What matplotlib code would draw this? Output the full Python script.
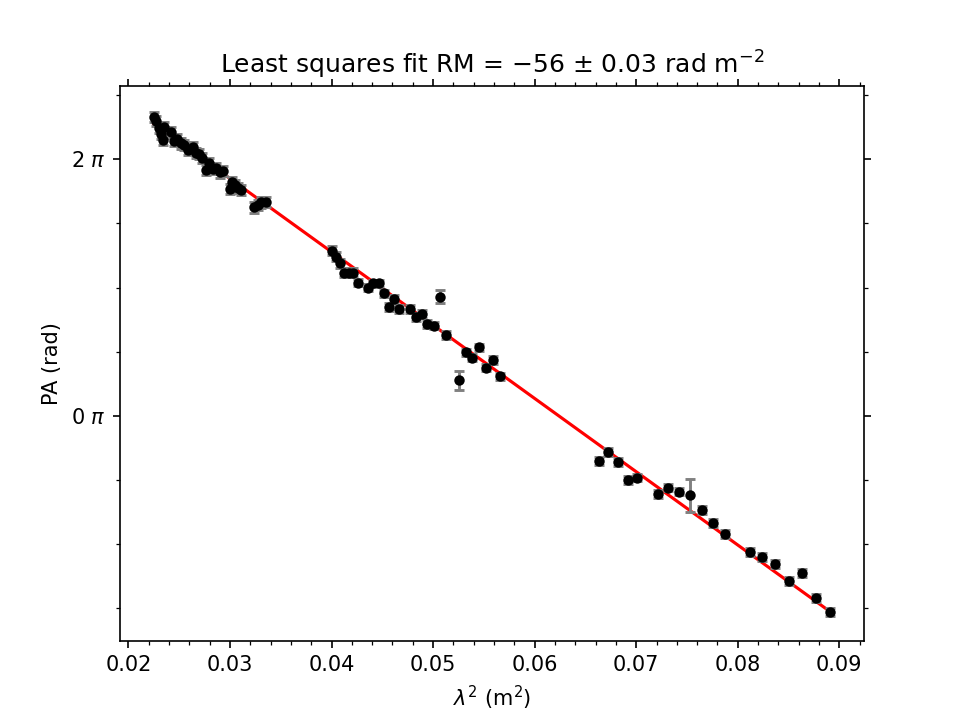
import numpy as np
import matplotlib
matplotlib.use('Agg')
from matplotlib import pyplot as plt
from matplotlib.ticker import MultipleLocator, FuncFormatter

#--------------------------------
# DATA
#--------------------------------
lam2 = [0.02256, 0.02272, 0.02305, 0.02322, 0.02338, 0.02354, 0.02419, 0.02452,
        0.02478, 0.02517, 0.02547, 0.02584, 0.02634, 0.02666, 0.02699, 0.02725,
        0.02766, 0.02789, 0.02832, 0.02865, 0.02898, 0.02935, 0.02999, 0.03016,
        0.03045, 0.03082, 0.03109, 0.03239, 0.03276, 0.03305, 0.03354,
        0.04000, 0.04042, 0.04085, 0.04124, 0.04173, 0.04216, 0.04264, 0.04357,
        0.04413, 0.04468, 0.04514, 0.04566, 0.04616, 0.04665, 0.04773, 0.04829,
        0.04895, 0.04940, 0.05006, 0.05068, 0.05129, 0.05255, 0.05321, 0.05386,
        0.05451, 0.05524, 0.05593, 0.05658,
        0.06631, 0.06724, 0.06822, 0.06916, 0.07009, 0.07211, 0.07314, 0.07418,
        0.07533, 0.07648, 0.07759, 0.07870, 0.08116, 0.08238, 0.08369, 0.08500,
        0.08631, 0.08769, 0.08910]
pa = [2.331, 2.300, 2.243, 2.199, 2.150, 2.253, 2.209, 2.144,
      2.160, 2.123, 2.113, 2.072, 2.092, 2.051, 2.041, 2.012,
      1.916, 1.967, 1.924, 1.934, 1.897, 1.910, 1.768, 1.819,
      1.801, 1.775, 1.762, 1.624, 1.645, 1.663, 1.669,
      1.287, 1.240, 1.191, 1.117, 1.117, 1.117, 1.039, 1.000,
      1.032, 1.032, 0.954, 0.850, 0.910, 0.832, 0.832, 0.772,
      0.795, 0.715, 0.704, 0.928, 0.629, 0.278, 0.494, 0.455,
      0.533, 0.377, 0.434, 0.307,
      -0.351, -0.281, -0.359, -0.501, -0.481, -0.611, -0.559, -0.590,
      -0.618, -0.733, -0.837, -0.922, -1.058, -1.099, -1.152, -1.287,
      -1.222, -1.417, -1.526]
pa_err = [0.04, 0.04, 0.04, 0.04, 0.04, 0.04, 0.04, 0.04,
          0.04, 0.04, 0.04, 0.04, 0.04, 0.04, 0.04, 0.04,
          0.04, 0.04, 0.04, 0.04, 0.04, 0.04, 0.04, 0.04,
          0.04, 0.04, 0.04, 0.04, 0.04, 0.04, 0.04,
          0.035, 0.035, 0.035, 0.035, 0.035, 0.035, 0.03, 0.03,
          0.03, 0.03, 0.03, 0.03, 0.03, 0.03, 0.03, 0.03,
          0.03, 0.03, 0.03, 0.05, 0.03, 0.075, 0.03, 0.03,
          0.03, 0.03, 0.03, 0.03,
          0.03, 0.03, 0.03, 0.03, 0.03, 0.03, 0.03, 0.03,
          0.13, 0.03, 0.03, 0.03, 0.03, 0.03, 0.03, 0.03,
          0.03, 0.03, 0.03]

# least squares fit
fit_slope = -57.1
fit_intercept = 3.562
fit_x = [0.0225, 0.0891]

#--------------------------------
# PLOT
#--------------------------------
fig, ax = plt.subplots(figsize=(6.4, 4.8), dpi=150)

ax.errorbar(lam2, pa, yerr=pa_err, fmt='o', color='black', ms=4,
            ecolor='grey', elinewidth=1.4, capsize=2.5, capthick=1.4, zorder=3)
ax.plot(fit_x, [fit_intercept + fit_slope*v for v in fit_x], color='red', lw=1.5, zorder=2)

ax.yaxis.set_major_locator(MultipleLocator(2))
ax.yaxis.set_minor_locator(MultipleLocator(0.5))
ax.yaxis.set_major_formatter(FuncFormatter(lambda v, p: '%d $\\pi$' % round(v)))
ax.xaxis.set_minor_locator(MultipleLocator(0.002))
ax.tick_params(which='both', top=True, right=True, direction='out')

ax.set_xlabel(r'$\lambda^2$ (m$^2$)')
ax.set_ylabel('PA (rad)')
ax.set_title(r'Least squares fit RM = $-$56 $\pm$ 0.03 rad m$^{-2}$')

plt.savefig('out.png')
